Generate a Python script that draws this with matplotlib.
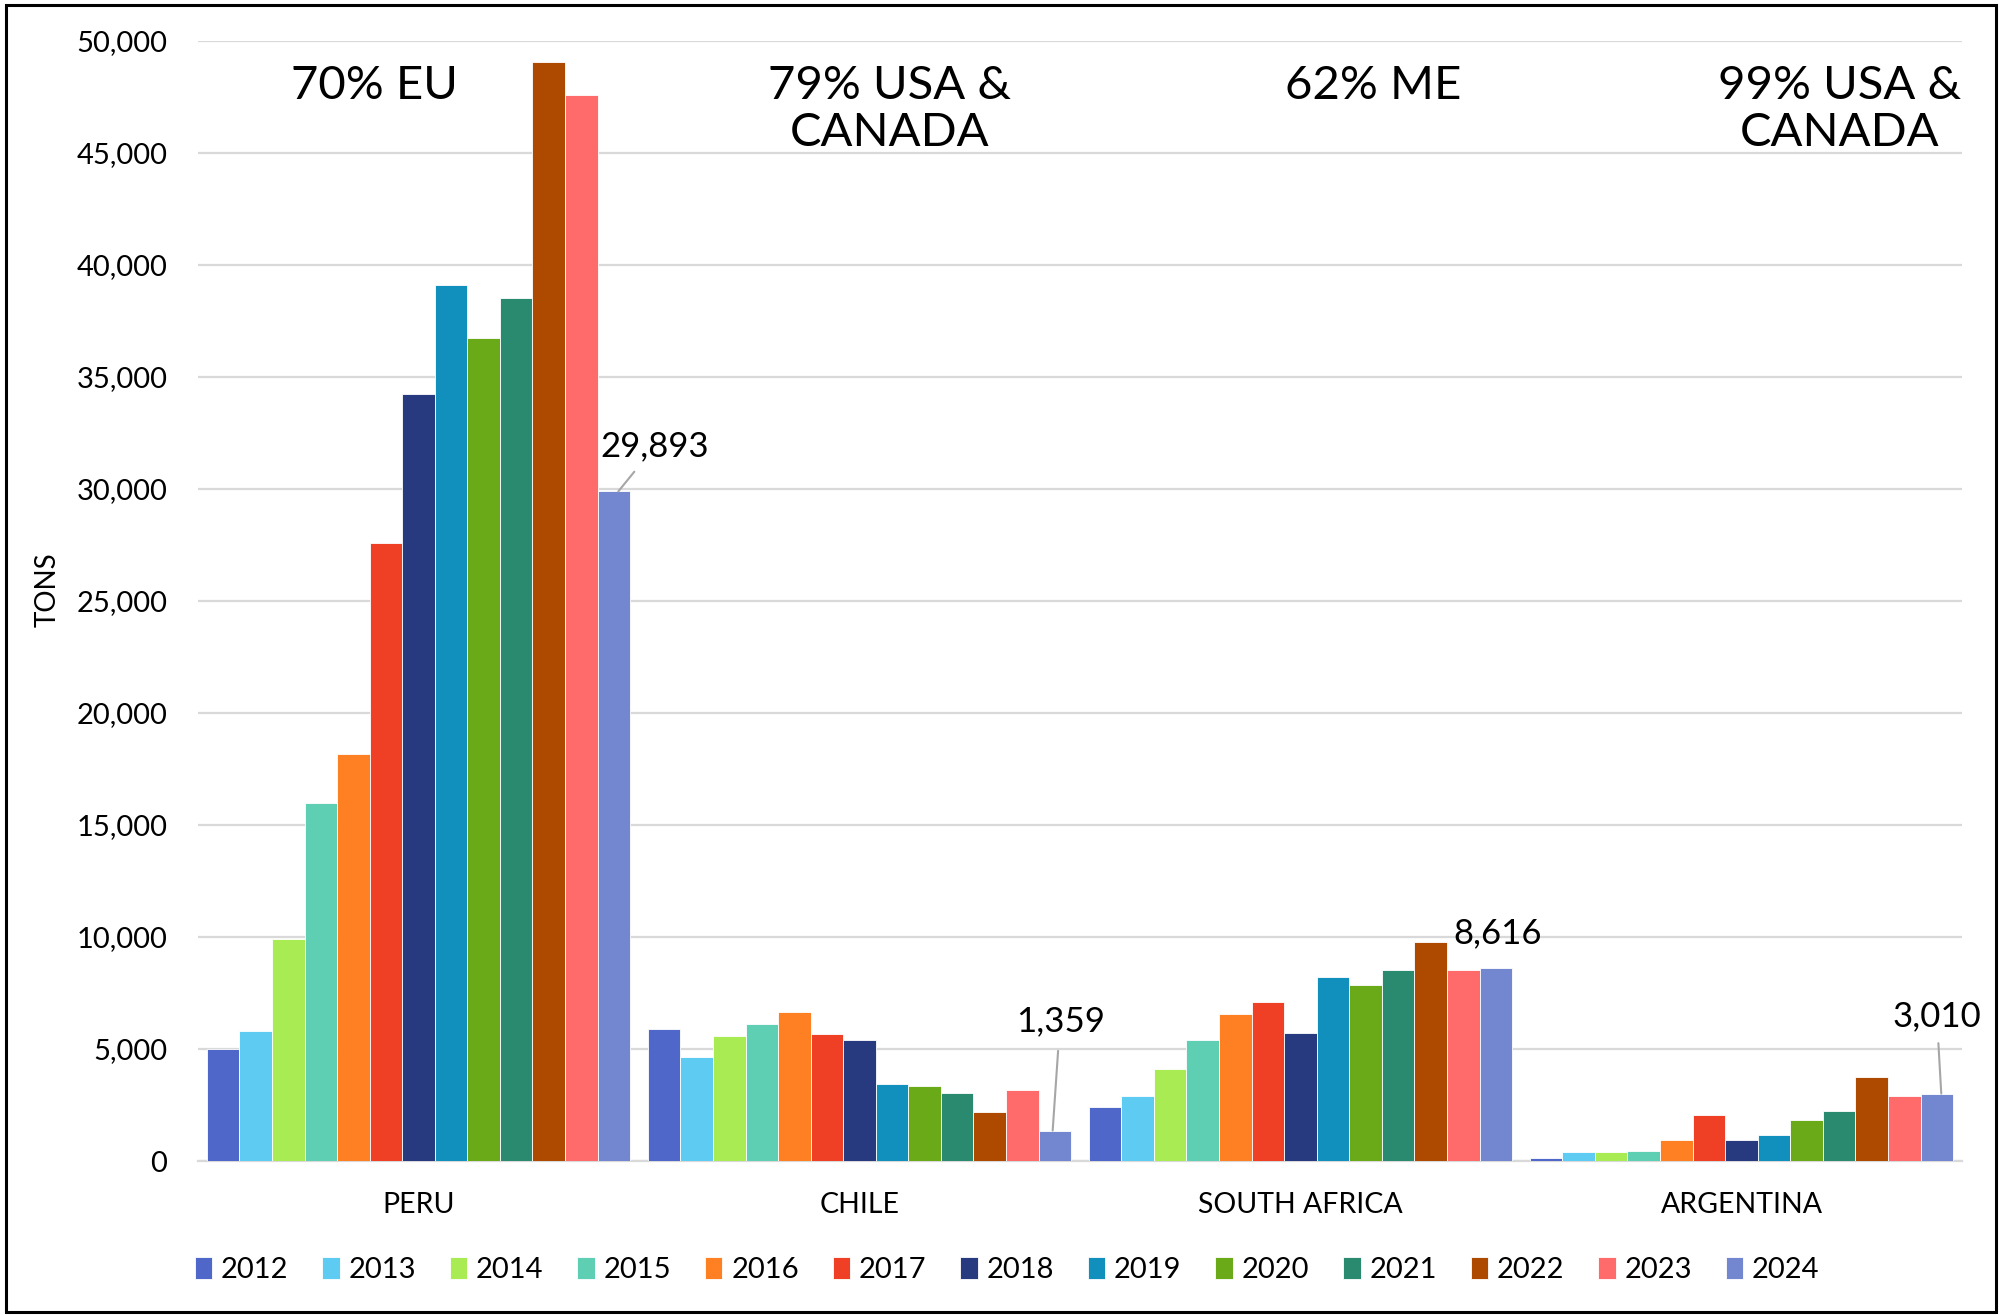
import matplotlib
matplotlib.use('Agg')
import matplotlib.pyplot as plt
from matplotlib.patches import Rectangle
from matplotlib.ticker import FuncFormatter
import numpy as np

plt.rcParams['font.family'] = ['Lato', 'DejaVu Sans']

countries = ["PERU", "CHILE", "SOUTH AFRICA", "ARGENTINA"]
years = ["2012", "2013", "2014", "2015", "2016", "2017", "2018",
         "2019", "2020", "2021", "2022", "2023", "2024"]

# tons per year, one list per country
peru = [5000, 5820, 9900, 16000, 18150, 27600, 34240, 39100, 36740, 38540, 49050, 47570, 29893]
chile = [5880, 4640, 5600, 6120, 6650, 5660, 5400, 3450, 3350, 3020, 2190, 3170, 1359]
south_africa = [2420, 2900, 4110, 5390, 6560, 7080, 5700, 8200, 7840, 8510, 9790, 8540, 8616]
argentina = [150, 400, 400, 430, 920, 2040, 920, 1150, 1830, 2230, 3750, 2920, 3010]

share_notes = ["70% EU", "79% USA &\nCANADA", "62% ME", "99% USA &\nCANADA"]

colors = ["#4F67C8", "#5ECBF2", "#A8EB52", "#5ECFB2", "#FF8022", "#EF4026", "#283A7F",
          "#1190BD", "#6AA917", "#2A8A70", "#AD4A00", "#FF6B6B", "#7386D0"]

data = np.array([peru, chile, south_africa, argentina])  # shape (4, 13)

fig = plt.figure(figsize=(20.02, 13.15), dpi=100)
ax = fig.add_axes([0.0989, 0.1171, 0.8811, 0.8517])

x = np.arange(len(countries))
n = len(years)
w = 0.96 / n
for j in range(n):
    ax.bar(x + (j - (n - 1) / 2) * w, data[:, j], width=w, color=colors[j],
           edgecolor='white', linewidth=0.6, label=years[j], zorder=3)

ax.set_xlim(-0.5, 3.5)
ax.set_ylim(0, 50000)
ax.set_yticks(np.arange(0, 50001, 5000))
ax.yaxis.set_major_formatter(FuncFormatter(lambda v, p: f"{int(v):,}"))
ax.grid(axis='y', color='#D9D9D9', linewidth=1.6, zorder=0)
ax.set_axisbelow(True)
for s in ['top', 'right', 'left']:
    ax.spines[s].set_visible(False)
ax.spines['bottom'].set_color('#D9D9D9')
ax.spines['bottom'].set_linewidth(1.6)
ax.tick_params(axis='y', length=0, pad=22, labelsize=21)
ax.tick_params(axis='x', length=0, pad=22, labelsize=20.5)
ax.set_xticks(x)
ax.set_xticklabels(countries)
ax.set_ylabel("TONS", fontsize=20)
ax.yaxis.set_label_coords(-0.078, 0.51)

# share notes above each group
note_x = [-0.101, 1.069, 2.164, 3.223]
for xi, txt in zip(note_x, share_notes):
    ax.text(xi, 48950, txt, ha='center', va='top', fontsize=34, linespacing=1.15)

# data labels for 2024
last = n - 1
bx = x + (last - (n - 1) / 2) * w
ax.annotate(f"{peru[last]:,}", xy=(bx[0] + 0.01, peru[last]), xytext=(0.536, 31900),
            ha='center', va='center', fontsize=25,
            arrowprops=dict(arrowstyle='-', color='#A6A6A6', lw=1.5, shrinkA=6, shrinkB=0))
ax.annotate(f"{chile[last]:,}", xy=(bx[1] - 0.005, chile[last]), xytext=(1.455, 6250),
            ha='center', va='center', fontsize=25,
            arrowprops=dict(arrowstyle='-', color='#A6A6A6', lw=1.5, shrinkA=8, shrinkB=0))
ax.text(2.448, 10180, f"{south_africa[last]:,}", ha='center', va='center', fontsize=25)
ax.annotate(f"{argentina[last]:,}", xy=(bx[3] + 0.01, argentina[last]), xytext=(3.443, 6470),
            ha='center', va='center', fontsize=25,
            arrowprops=dict(arrowstyle='-', color='#A6A6A6', lw=1.5, shrinkA=6, shrinkB=0))

fig.legend(loc='center', bbox_to_anchor=(0.503, 0.034), ncol=n, frameon=False,
           fontsize=21, handlelength=0.6, handleheight=0.75, handletextpad=0.3,
           columnspacing=1.16)

fig.patches.append(Rectangle((0.003, 0.002), 0.994, 0.994, transform=fig.transFigure,
                             fill=False, edgecolor='black', linewidth=2.2))

plt.savefig("out.png", dpi=100)
